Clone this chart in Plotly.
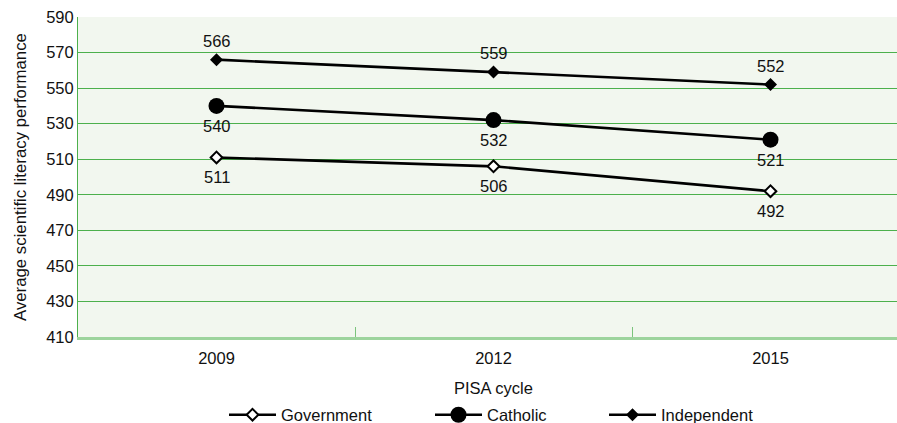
import plotly.graph_objects as go

# PISA scientific literacy by school sector
cycles = ["2009", "2012", "2015"]
government = [511, 506, 492]
catholic = [540, 532, 521]
independent = [566, 559, 552]
y_ticks = [410, 430, 450, 470, 490, 510, 530, 550, 570, 590]

FONT = "Liberation Sans, Arial, Helvetica, sans-serif"
GRID = "#4cb04c"
TXT = "#111111"
FS = 16.5
xpos = list(range(len(cycles)))

W, H = 897, 423
M_L, M_R, M_T, M_B = 78, 0, 17, 86
plot_w = W - M_L - M_R
plot_h = H - M_T - M_B
# category spacing in pixels; the plot runs past the right edge of the page
step = 277.0
x_lo = -0.5
x_hi = x_lo + plot_w / step

fig = go.Figure()


def add_series(name, values, symbol, size, fill, label_shift, legend):
    fig.add_trace(go.Scatter(
        x=xpos, y=values, name=name,
        mode="lines+markers",
        line=dict(color="black", width=2.6),
        marker=dict(symbol=symbol, size=size, color=fill,
                    line=dict(color="black", width=2 if fill == "white" else 0)),
        legend=legend,
        cliponaxis=False,
    ))
    # value labels sit a fixed distance above or below each point
    for xv, v in zip(xpos, values):
        fig.add_annotation(
            x=xv, y=v, xref="x", yref="y", text=str(v),
            showarrow=False, yshift=label_shift,
            xanchor="center", yanchor="middle",
            font=dict(family=FONT, size=FS, color=TXT),
        )


add_series("Government", government, "diamond", 9, "white", -20, "legend")
add_series("Catholic", catholic, "circle", 16, "black", -20, "legend2")
add_series("Independent", independent, "diamond", 10, "black", 19, "legend3")


def px_to_paper_x(px):
    return (px - M_L) / plot_w


def px_to_paper_y(py):
    return 1 - (py - M_T) / plot_h


leg_common = dict(
    orientation="h", xanchor="left", yanchor="middle",
    font=dict(family=FONT, size=FS, color=TXT),
    bgcolor="rgba(0,0,0,0)", itemwidth=47,
)
leg_y = px_to_paper_y(415)
fig.update_layout(
    legend=dict(x=px_to_paper_x(224), y=leg_y, **leg_common),
    legend2=dict(x=px_to_paper_x(430), y=leg_y, **leg_common),
    legend3=dict(x=px_to_paper_x(604), y=leg_y, **leg_common),
)

fig.update_xaxes(
    range=[x_lo, x_hi],
    tickvals=xpos, ticktext=cycles,
    ticks="", showgrid=False, zeroline=False,
    showline=True, linecolor="#9dd49d", linewidth=2.5,
    tickfont=dict(family=FONT, size=FS, color=TXT),
    ticklabelstandoff=4,
    minor=dict(tickvals=[0.5, 1.5], ticks="inside", ticklen=10,
               tickcolor="#7cc47c", tickwidth=1, showgrid=False),
)
fig.update_yaxes(
    range=[410, 590], tickvals=y_ticks,
    ticks="", showgrid=True, gridcolor=GRID, gridwidth=1,
    zeroline=False, showline=True, linecolor=GRID, linewidth=1,
    tickfont=dict(family=FONT, size=FS, color=TXT),
)

fig.add_annotation(
    text="PISA cycle", xref="x", x=1, yref="paper", y=px_to_paper_y(388),
    showarrow=False, yanchor="middle",
    font=dict(family=FONT, size=FS, color=TXT),
)
fig.add_annotation(
    text="Average scientific literacy performance", textangle=-90,
    xref="paper", x=px_to_paper_x(20), yref="paper", y=0.5,
    showarrow=False, xanchor="center", yanchor="middle",
    font=dict(family=FONT, size=16.8, color=TXT),
)

fig.update_layout(
    width=W, height=H,
    margin=dict(l=M_L, r=M_R, t=M_T, b=M_B, autoexpand=False),
    paper_bgcolor="white", plot_bgcolor="#f2f7ef",
    showlegend=True,
)

fig.write_html("out.html")
